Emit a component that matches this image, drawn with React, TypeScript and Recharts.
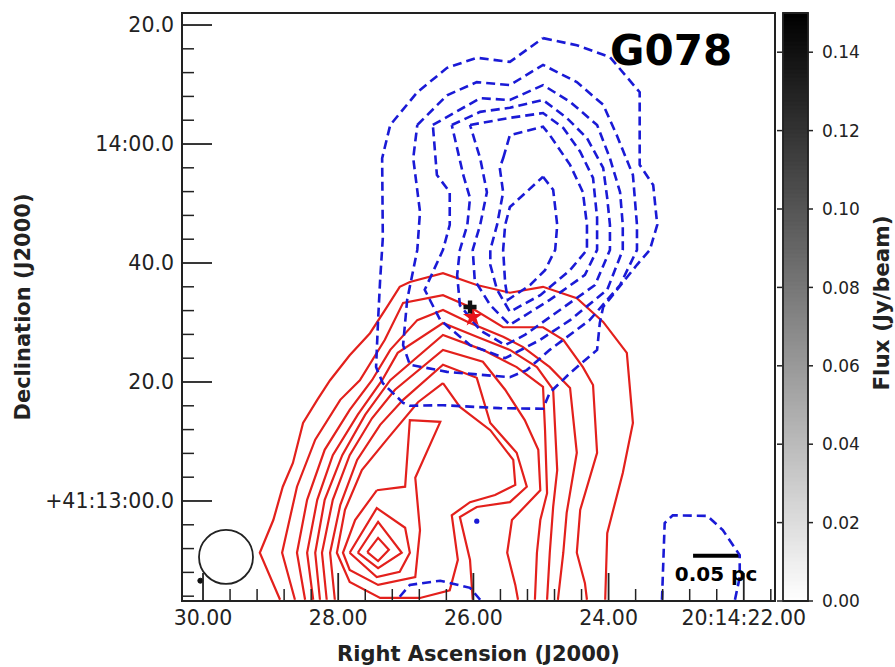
import React from 'react';
import {
  ScatterChart,
  Scatter,
  XAxis,
  YAxis,
  ReferenceArea,
  ReferenceDot,
  ReferenceLine,
  Symbols,
} from 'recharts';

const FONT = 'DejaVu Sans, Verdana, sans-serif';
const RED = '#e3201c';
const BLUE = '#1a1ad6';

// ---- axis ticks (RA seconds of 20:14:xx, Dec arcsec offset from +41:13:00) ----
const X_MAJOR = [22, 24, 26, 28, 30];
const X_MAJOR_LABELS = ['20:14:22.00', '24.00', '26.00', '28.00', '30.00'];
const X_MINOR = [21.6, 22.4, 22.8, 23.2, 23.6, 24.4, 24.8, 25.2, 25.6, 26.4, 26.8, 27.2, 27.6, 28.4, 28.8, 29.2, 29.6];
const Y_MAJOR = [0, 20, 40, 60, 80];
const Y_MAJOR_LABELS = ['+41:13:00.0', '20.0', '40.0', '14:00.0', '20.0'];
const Y_MINOR = [-16, -12, -8, -4, 4, 8, 12, 16, 24, 28, 32, 36, 44, 48, 52, 56, 64, 68, 72, 76];
const X_DOMAIN: [number, number] = [21.538, 30.311];
const Y_DOMAIN: [number, number] = [-16.81, 82.02];

// ---- colorbar ----
const CB_TICKS = [0, 0.02, 0.04, 0.06, 0.08, 0.1, 0.12, 0.14];
const CB_MAX = 0.15;
const CB_STEPS = 147;

// ---- blue dashed contours [RA s, Dec arcsec] ----
const blue1 = [[24.97,77.8],[24.47,76.6],[23.98,74.6],[23.54,68.7],[23.54,56.5],[23.34,53.1],[23.28,46.4],[23.39,42.2],[23.58,39.7],[24.08,32.6],[24.13,29.9],[24.17,25.4],[24.57,21.5],[24.87,18.2],[24.97,15.5],[25.61,15.6],[26.45,16.1],[26.94,16.0],[27.04,16.5],[27.34,19.8],[27.44,22.5],[27.41,30.4],[27.38,37.1],[27.34,44.2],[27.35,57.6],[27.23,63.2],[26.83,68.7],[26.39,72.8],[25.95,74.5],[25.46,73.8],[24.97,77.8]];
const blue2 = [[26.83,63.2],[26.39,68.2],[25.95,70.4],[25.46,69.9],[24.97,73.3],[24.47,70.4],[24.08,66.6],[23.88,61.5],[23.64,54.8],[23.58,46.4],[23.58,42.2],[23.83,36.3],[24.28,30.4],[24.87,25.4],[25.21,22.0],[25.46,20.8],[26.39,21.7],[26.94,22.9],[27.04,26.2],[26.98,33.8],[26.83,42.2],[26.79,48.6],[26.89,57.6],[26.83,63.2]];
const blue3 = [[26.60,63.2],[25.90,67.7],[25.46,67.4],[24.97,69.9],[24.57,67.1],[24.17,63.2],[23.98,57.6],[23.83,51.9],[23.79,46.4],[23.79,42.2],[24.02,35.5],[24.57,30.4],[25.01,27.1],[25.53,24.0],[26.05,26.2],[26.49,30.4],[26.72,35.5],[26.45,42.2],[26.35,46.4],[26.35,51.9],[26.54,54.8],[26.60,63.2]];
const blue4 = [[26.32,63.2],[25.90,65.4],[25.46,66.1],[24.97,67.4],[24.62,64.4],[24.32,61.0],[24.08,56.0],[24.02,50.9],[23.98,46.4],[23.98,42.2],[24.20,36.3],[24.72,32.1],[25.24,27.9],[25.53,26.2],[25.90,28.7],[26.20,32.9],[26.24,38.0],[26.20,42.2],[26.09,46.4],[26.05,50.9],[26.15,54.8],[26.32,63.2]];
const blue5 = [[26.05,63.2],[25.46,64.4],[24.97,65.2],[24.67,62.7],[24.42,58.7],[24.23,54.3],[24.17,47.6],[24.17,42.2],[24.35,38.0],[24.87,33.8],[25.46,29.6],[25.75,32.9],[25.98,37.1],[26.01,42.2],[25.90,46.4],[25.80,51.9],[25.90,57.6],[26.05,63.2]];
const blue6 = [[25.56,57.6],[25.46,61.5],[24.97,62.9],[24.87,61.5],[24.57,56.5],[24.38,51.9],[24.32,46.4],[24.32,42.2],[24.57,38.8],[25.01,34.6],[25.46,31.8],[25.65,35.5],[25.75,39.7],[25.75,42.2],[25.65,46.4],[25.56,51.9],[25.61,56.0],[25.56,57.6]];
const blue7 = [[24.97,54.5],[24.82,52.3],[24.76,46.4],[24.79,42.2],[24.94,38.8],[25.16,36.3],[25.49,33.8],[25.53,36.6],[25.56,42.2],[25.53,46.4],[25.46,49.4],[24.97,54.5]];
const blue8 = [[27.09,-16.1],[26.94,-14.1],[26.49,-13.4],[26.05,-14.6],[25.90,-16.6]];
const blue9 = [[23.21,-16.6],[23.17,-3.7],[23.05,-2.4],[22.54,-2.5],[22.31,-4.9],[22.06,-9.1],[22.06,-12.8],[22.13,-16.6]];
const blueDot = [[25.95,-3.4]];

// ---- red solid contours ----
const red1 = [[28.86,-16.6],[29.16,-8.7],[28.96,-3.2],[28.82,2.4],[28.67,6.4],[28.52,13.1],[28.31,17.0],[28.12,20.3],[27.83,24.5],[27.53,28.2],[27.28,32.6],[27.09,36.0],[26.94,36.8],[26.45,38.3],[25.95,36.3],[25.46,35.0],[24.97,36.0],[24.47,34.1],[24.08,30.1],[23.73,24.9],[23.64,13.1],[23.79,4.7],[24.02,-5.4],[24.05,-16.6]];
const red2 = [[28.64,-16.6],[28.83,-8.7],[28.61,2.4],[28.34,10.3],[27.97,17.0],[27.68,20.3],[27.31,27.1],[27.04,33.3],[26.45,34.6],[26.05,32.6],[25.56,29.2],[24.97,29.2],[24.67,27.1],[24.38,22.5],[24.23,19.5],[24.17,8.1],[24.42,-1.5],[24.47,-8.7],[24.35,-13.8],[24.32,-16.6]];
const red3 = [[28.49,-16.6],[28.61,-8.7],[28.46,0.2],[28.20,8.6],[27.83,15.3],[27.50,20.3],[27.23,25.4],[26.83,30.4],[26.45,32.1],[26.05,29.9],[25.56,27.6],[25.27,25.9],[24.87,22.5],[24.57,19.0],[24.47,8.1],[24.62,-2.0],[24.67,-8.7],[24.75,-16.6]];
const red4 = [[28.37,-16.6],[28.46,-8.7],[28.31,0.2],[28.08,7.7],[27.71,14.5],[27.35,20.3],[27.12,24.9],[26.45,29.9],[25.95,27.6],[25.46,25.4],[25.06,22.5],[24.82,18.7],[24.76,5.2],[24.82,-1.0],[24.87,-8.7],[24.91,-16.6]];
const red5 = [[28.27,-16.6],[28.34,-8.7],[28.20,0.2],[27.94,7.7],[27.60,14.5],[27.23,20.3],[26.45,27.9],[25.86,25.4],[25.36,22.5],[24.97,19.2],[24.94,11.9],[24.91,1.3],[25.01,-3.2],[25.06,-8.7],[25.09,-16.6]];
const red6 = [[28.17,-16.6],[28.24,-8.7],[28.08,0.2],[27.83,7.7],[27.50,13.9],[27.16,18.7],[26.45,25.4],[25.86,23.4],[25.53,18.7],[25.24,13.6],[25.04,8.6],[25.01,1.8],[25.43,-3.2],[25.50,-8.7],[25.38,-14.1],[25.34,-16.6]];
const red7 = [[28.05,-16.6],[28.12,-8.7],[27.97,-0.7],[27.72,6.9],[27.38,12.8],[27.04,17.0],[26.45,22.9],[25.95,20.7],[25.75,13.1],[25.36,8.1],[25.21,2.4],[25.46,-0.2],[25.95,-1.0],[26.20,-2.7],[26.05,-9.9],[26.01,-16.6]];
const red8 = [[26.45,19.8],[26.20,15.8],[25.75,11.9],[25.41,6.9],[25.38,2.7],[25.68,1.0],[26.05,-0.2],[26.32,-2.4],[26.23,-9.9],[26.35,-15.0],[26.79,-16.3],[27.38,-16.3],[27.83,-13.6],[28.02,-8.7],[27.90,-1.5],[27.65,5.2],[27.26,10.6],[26.82,16.6],[26.45,19.8]];
const red9 = [[27.43,1.8],[27.01,2.4],[26.94,13.6],[26.49,13.3],[26.86,3.9],[26.79,-4.9],[26.86,-12.8],[27.41,-14.1],[27.83,-11.6],[27.93,-8.7],[27.75,-3.2],[27.43,1.8]];
const red10 = [[27.83,-8.7],[27.43,-1.2],[27.01,-4.5],[26.94,-8.7],[27.09,-11.9],[27.43,-12.8],[27.83,-8.7]];
const red11 = [[27.71,-8.7],[27.41,-3.5],[27.06,-8.7],[27.41,-11.3],[27.71,-8.7]];
const red12 = [[27.57,-8.6],[27.41,-6.2],[27.25,-8.2],[27.41,-10.1],[27.57,-8.6]];

// ---- markers, beam, scale bar ----
const blackSource = [[26.05,32.6]];
const redSource = [[26.01,30.9]];
const beamCenter = [29.66, -9.4];
const beamDot = [30.04, -13.4];
const scaleBar = [[22.75, -9.2], [22.07, -9.2]];

const BLUE_CONTOURS = [blue1, blue2, blue3, blue4, blue5, blue6, blue7, blue8, blue9];
const RED_CONTOURS = [red1, red2, red3, red4, red5, red6, red7, red8, red9, red10, red11, red12];

const toPts = (a: number[][]) => a.map(([x, y]) => ({ x, y }));
const NoShape = () => <g />;

const XTick = (p: any) => {
  const { x, y, payload } = p;
  const i = X_MAJOR.indexOf(payload.value);
  const major = i >= 0;
  return (
    <g>
      <line x1={x} x2={x} y1={y} y2={y - (major ? 28 : 12)} stroke="#222" strokeWidth={major ? 1.8 : 1.5} />
      {major && (
        <text x={x} y={y + 24} textAnchor="middle" fontSize={20.5} fill="#222" fontFamily={FONT}>
          {X_MAJOR_LABELS[i]}
        </text>
      )}
    </g>
  );
};

const YTick = (p: any) => {
  const { x, y, payload } = p;
  const i = Y_MAJOR.indexOf(payload.value);
  const major = i >= 0;
  return (
    <g>
      <line x1={x} x2={x + (major ? 30 : 12)} y1={y} y2={y} stroke="#222" strokeWidth={major ? 1.8 : 1.5} />
      {major && (
        <text x={x - 8} y={y} dy="0.36em" textAnchor="end" fontSize={20.5} fill="#222" fontFamily={FONT}>
          {Y_MAJOR_LABELS[i]}
        </text>
      )}
    </g>
  );
};

const CBTick = (p: any) => {
  const { x, y, payload } = p;
  return (
    <g>
      <line x1={x} x2={x + 5} y1={y} y2={y} stroke="#222" strokeWidth={1.5} />
      <line x1={x - 31} x2={x - 26} y1={y} y2={y} stroke="#222" strokeWidth={1.5} />
      <text x={x + 14} y={y} dy="0.36em" textAnchor="start" fontSize={17} fill="#222" fontFamily={FONT}>
        {Number(payload.value).toFixed(2)}
      </text>
    </g>
  );
};

const grayFor = (t: number) => {
  const g = Math.round(255 * (1 - t));
  return `rgb(${g},${g},${g})`;
};

export default function App() {
  const xTicks = [...X_MAJOR, ...X_MINOR].sort((a, b) => a - b);
  const yTicks = [...Y_MAJOR, ...Y_MINOR].sort((a, b) => a - b);
  const bands = Array.from({ length: CB_STEPS }, (_, i) => i);
  const step = CB_MAX / CB_STEPS;

  return (
    <div style={{ position: 'absolute', left: 0, top: 0, width: 895, height: 667, background: '#fff', fontFamily: FONT }}>
      <div style={{ position: 'absolute', left: 0, top: 0 }}>
        <ScatterChart width={895} height={667} margin={{ top: 13, right: 120, bottom: 36, left: 0 }}>
          <XAxis
            type="number"
            dataKey="x"
            domain={X_DOMAIN}
            reversed
            allowDataOverflow
            ticks={xTicks}
            interval={0}
            tick={XTick}
            tickLine={false}
            axisLine={false}
            tickSize={0}
            tickMargin={0}
            height={30}
          />
          <YAxis
            type="number"
            dataKey="y"
            domain={Y_DOMAIN}
            allowDataOverflow
            ticks={yTicks}
            interval={0}
            tick={YTick}
            tickLine={false}
            axisLine={false}
            tickSize={0}
            tickMargin={0}
            width={182}
          />
          {RED_CONTOURS.map((c, i) => (
            <Scatter
              key={'r' + i}
              data={toPts(c)}
              fill={RED}
              line={{ stroke: RED, strokeWidth: 2.2 }}
              lineType="joint"
              shape={NoShape}
              isAnimationActive={false}
            />
          ))}
          {BLUE_CONTOURS.map((c, i) => (
            <Scatter
              key={'b' + i}
              data={toPts(c)}
              fill={BLUE}
              line={{ stroke: BLUE, strokeWidth: 2.6, strokeDasharray: '9 5' }}
              lineType="joint"
              shape={NoShape}
              isAnimationActive={false}
            />
          ))}
          <Scatter
            data={toPts(blueDot)}
            fill={BLUE}
            isAnimationActive={false}
            shape={(p: any) => <circle cx={p.cx} cy={p.cy} r={2.6} fill={BLUE} />}
          />
          <Scatter
            data={toPts(redSource)}
            fill={RED}
            isAnimationActive={false}
            shape={(p: any) => <Symbols cx={p.cx} cy={p.cy} type="star" size={120} fill="#e8141a" />}
          />
          <Scatter
            data={toPts(blackSource)}
            fill="#111"
            isAnimationActive={false}
            shape={(p: any) => <Symbols cx={p.cx} cy={p.cy} type="cross" size={95} fill="#111" />}
          />
          <ReferenceDot x={beamCenter[0]} y={beamCenter[1]} r={27} fill="none" stroke="#222" strokeWidth={1.8} />
          <ReferenceDot x={beamDot[0]} y={beamDot[1]} r={2.5} fill="#111" stroke="#111" />
          <ReferenceLine
            segment={[
              { x: scaleBar[0][0], y: scaleBar[0][1] },
              { x: scaleBar[1][0], y: scaleBar[1][1] },
            ]}
            stroke="#000"
            strokeWidth={4}
          />
          <ReferenceArea
            x1={X_DOMAIN[0]}
            x2={X_DOMAIN[1]}
            y1={Y_DOMAIN[0]}
            y2={Y_DOMAIN[1]}
            fill="none"
            stroke="#222"
            strokeWidth={2}
          />
        </ScatterChart>
      </div>

      <div style={{ position: 'absolute', left: 0, top: 0 }}>
        <ScatterChart width={895} height={667} margin={{ top: 13, right: 0, bottom: 66, left: 783 }}>
          <XAxis type="number" dataKey="x" domain={[0, 1]} hide />
          <YAxis
            type="number"
            dataKey="v"
            domain={[0, CB_MAX]}
            orientation="right"
            width={87}
            ticks={CB_TICKS}
            interval={0}
            tick={CBTick}
            tickLine={false}
            axisLine={false}
            tickSize={0}
            tickMargin={0}
          />
          <Scatter data={[{ x: 0.5, v: 0 }]} shape={NoShape} isAnimationActive={false} />
          {bands.map((i) => {
            const c = grayFor((i + 0.5) / CB_STEPS);
            return (
              <ReferenceArea
                key={'cb' + i}
                x1={0}
                x2={1}
                y1={i * step}
                y2={(i + 1) * step}
                fill={c}
                fillOpacity={1}
                stroke={c}
                strokeWidth={1}
              />
            );
          })}
          <ReferenceArea x1={0} x2={1} y1={0} y2={CB_MAX} fill="none" stroke="#222" strokeWidth={1.8} />
        </ScatterChart>
      </div>

      <svg width={895} height={667} style={{ position: 'absolute', left: 0, top: 0, pointerEvents: 'none' }}>
        <text x={610} y={65} fontSize={42} fontWeight="bold" fill="#000" fontFamily={FONT}>G078</text>
        <text x={716} y={581} fontSize={20} fontWeight="bold" fill="#000" textAnchor="middle" fontFamily={FONT}>0.05 pc</text>
        <text x={478.5} y={661} fontSize={21} fontWeight="bold" fill="#222" textAnchor="middle" fontFamily={FONT}>
          Right Ascension (J2000)
        </text>
        <text transform="translate(30,307) rotate(-90)" fontSize={21} fontWeight="bold" fill="#222" textAnchor="middle" fontFamily={FONT}>
          Declination (J2000)
        </text>
        <text transform="translate(889,303) rotate(-90)" fontSize={21.5} fontWeight="bold" fill="#222" textAnchor="middle" fontFamily={FONT}>
          Flux (Jy/beam)
        </text>
      </svg>
    </div>
  );
}
